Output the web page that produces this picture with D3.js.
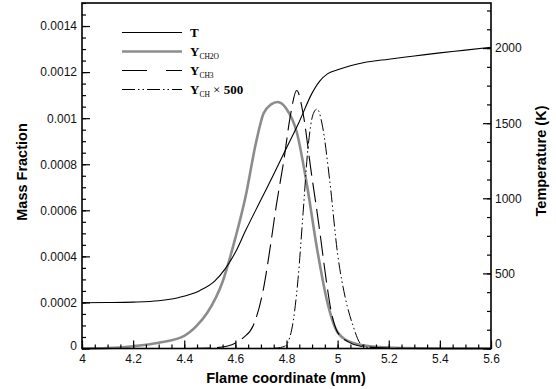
<!DOCTYPE html>
<html>
<head>
<meta charset="utf-8">
<script src="https://cdn.jsdelivr.net/npm/d3@7"></script>
<style>
  body { margin: 0; background: #fff; }
  text { font-family: "Liberation Sans", Arial, sans-serif; }
</style>
</head>
<body>
<svg width="556" height="389"></svg>
<script>
// Temperature profile (K)
var tempX = [4.0, 4.1, 4.2, 4.3, 4.38, 4.46, 4.52, 4.56, 4.6, 4.64, 4.7, 4.75, 4.8, 4.85, 4.9, 4.93, 4.96, 5.0, 5.05, 5.1, 5.2, 5.3, 5.4, 5.5, 5.6];
var tempY = [305, 306, 309, 318, 340, 385, 450, 530, 640, 785, 990, 1160, 1335, 1510, 1700, 1780, 1828, 1855, 1882, 1902, 1926, 1947, 1968, 1986, 2005];

// Y_CH2O mass fraction
var ch2oX = [4.0, 4.1, 4.2, 4.3, 4.4, 4.45, 4.49, 4.55, 4.6, 4.64, 4.68, 4.71, 4.74, 4.765, 4.8, 4.84, 4.88, 4.92, 4.96, 5.0, 5.06, 5.14, 5.25, 5.4, 5.6];
var ch2oY = [0, 0.000002, 0.00001, 0.000025, 0.000055, 0.0001, 0.000155, 0.00029, 0.00048, 0.00066, 0.00089, 0.00102, 0.00106, 0.00107, 0.00104, 0.00094, 0.00071, 0.00043, 0.0002, 0.00007, 0.000024, 0.000008, 0.000002, 0, 0];

// Y_CH3 mass fraction
var ch3X = [4.0, 4.4, 4.5, 4.566, 4.63, 4.67, 4.71, 4.735, 4.76, 4.79, 4.815, 4.84, 4.865, 4.895, 4.93, 4.955, 4.975, 5.0, 5.04, 5.09, 5.2, 5.3, 5.6];
var ch3Y = [0, 0, 0.000002, 0.00001, 0.000046, 0.0001, 0.00026, 0.00043, 0.00062, 0.00082, 0.00101, 0.00112, 0.00102, 0.00078, 0.00051, 0.0003, 0.00016, 0.00007, 0.00003, 0.00001, 0.000002, 0, 0];

// Y_CH x 500
var chX = [4.0, 4.7, 4.76, 4.793, 4.82, 4.845, 4.865, 4.884, 4.905, 4.92, 4.94, 4.969, 5.0, 5.03, 5.06, 5.09, 5.12, 5.2, 5.6];
var chY = [0, 0, 0.000002, 0.00001, 0.00008, 0.0003, 0.00059, 0.00087, 0.00102, 0.00104, 0.00097, 0.00073, 0.00041, 0.00022, 0.0001, 0.00002, 0.000004, 0, 0];

var xTicks = [4, 4.2, 4.4, 4.6, 4.8, 5, 5.2, 5.4, 5.6];
var yTicks = [0, 0.0002, 0.0004, 0.0006, 0.0008, 0.001, 0.0012, 0.0014];
var tTicks = [0, 500, 1000, 1500, 2000];

(function() {
  var svg = d3.select("svg");
  var mLeft = 82, mRight = 491, mTop = 3, mBottom = 348.5;

  var x = d3.scaleLinear().domain([4, 5.6]).range([mLeft, mRight]);
  var y = d3.scaleLinear().domain([0, 0.0015]).range([mBottom, mTop]);
  var yT = d3.scaleLinear().domain([0, 2300]).range([mBottom, mTop]);

  function zip(xs, ys) { return xs.map(function(v, i) { return [v, ys[i]]; }); }

  var plot = svg.append("g");

  // curves
  var lineY = d3.line().x(function(d) { return x(d[0]); }).y(function(d) { return y(d[1]); }).curve(d3.curveMonotoneX);
  var lineT = d3.line().x(function(d) { return x(d[0]); }).y(function(d) { return yT(d[1]); }).curve(d3.curveMonotoneX);

  plot.append("path").datum(zip(ch2oX, ch2oY)).attr("d", lineY)
      .attr("fill", "none").attr("stroke", "#8c8c8c").attr("stroke-width", 2.6);
  plot.append("path").datum(zip(ch3X, ch3Y)).attr("d", lineY)
      .attr("fill", "none").attr("stroke", "#000").attr("stroke-width", 1.1)
      .attr("stroke-dasharray", "20,7");
  plot.append("path").datum(zip(chX, chY)).attr("d", lineY)
      .attr("fill", "none").attr("stroke", "#000").attr("stroke-width", 1)
      .attr("stroke-dasharray", "12,3,1.5,3,1.5,3");
  plot.append("path").datum(zip(tempX, tempY)).attr("d", lineT)
      .attr("fill", "none").attr("stroke", "#000").attr("stroke-width", 1.1);

  // frame
  svg.append("rect").attr("x", mLeft).attr("y", mTop).attr("width", mRight - mLeft).attr("height", mBottom - mTop)
     .attr("fill", "none").attr("stroke", "#000").attr("stroke-width", 1.6);

  function fmt(v) { return String(+v.toFixed(4)); }

  // bottom axis (ticks inward)
  var gx = svg.append("g").attr("transform", "translate(0," + mBottom + ")")
      .call(d3.axisBottom(x).tickValues(d3.range(4, 5.6001, 0.05)).tickSize(-4).tickFormat(""));
  gx.append("g").call(d3.axisBottom(x).tickValues(xTicks).tickSize(-8).tickFormat(fmt));
  gx.selectAll("text").attr("y", 6).attr("dy", "0.71em");

  var gy = svg.append("g").attr("transform", "translate(" + mLeft + ",0)")
      .call(d3.axisLeft(y).tickValues(d3.range(0, 0.00150001, 0.00005)).tickSize(-4).tickFormat(""));
  gy.append("g").call(d3.axisLeft(y).tickValues(yTicks).tickSize(-8).tickFormat(fmt));
  gy.selectAll("text").attr("x", -5);

  var gt = svg.append("g").attr("transform", "translate(" + mRight + ",0)")
      .call(d3.axisRight(yT).tickValues(d3.range(0, 2300, 125)).tickSize(-4).tickFormat(""));
  gt.append("g").call(d3.axisRight(yT).tickValues(tTicks).tickSize(-8).tickFormat(fmt));
  gt.selectAll("text").attr("x", 4);

  svg.selectAll(".domain").remove();
  svg.selectAll(".tick line").attr("stroke", "#000").attr("stroke-width", 1.2);
  svg.selectAll(".tick text").attr("font-size", 12).attr("fill", "#111")
     .attr("font-family", "Liberation Sans, Arial, sans-serif");
  // zero labels sit slightly above the corner like the original
  gy.selectAll(".tick text").filter(function(d) { return d === 0; }).attr("dy", "0.1em");
  gt.selectAll(".tick text").filter(function(d) { return d === 0; }).attr("dy", "-0.05em");

  // axis titles
  svg.append("text").attr("x", 286).attr("y", 383).attr("text-anchor", "middle")
     .attr("font-size", 14.5).attr("font-weight", "bold").text("Flame coordinate (mm)");
  svg.append("text").attr("transform", "translate(27,172) rotate(-90)").attr("text-anchor", "middle")
     .attr("font-size", 14.5).attr("font-weight", "bold").text("Mass Fraction");
  svg.append("text").attr("transform", "translate(546,161) rotate(-90)").attr("text-anchor", "middle")
     .attr("font-size", 14.5).attr("font-weight", "bold").text("Temperature (K)");

  // legend
  var legend = [
    { main: "T", sub: "", extra: false, stroke: "#000", width: 1.1, dash: null },
    { main: "Y", sub: "CH2O", extra: false, stroke: "#8c8c8c", width: 2.6, dash: null },
    { main: "Y", sub: "CH3", extra: false, stroke: "#000", width: 1.1, dash: "25,19" },
    { main: "Y", sub: "CH", extra: true, stroke: "#000", width: 1, dash: "13,3,1.5,3,1.5,3" }
  ];
  var lg = svg.append("g");
  legend.forEach(function(d, i) {
    var ly = 32.5 + i * 19;
    lg.append("line").attr("x1", 122).attr("x2", 182).attr("y1", ly).attr("y2", ly)
      .attr("stroke", d.stroke).attr("stroke-width", d.width).attr("stroke-dasharray", d.dash);
    var t = lg.append("text").attr("x", 190).attr("y", ly + 4.5)
      .style("font-family", "Liberation Serif, Times New Roman, serif").attr("font-size", 13).attr("font-weight", "bold");
    t.append("tspan").text(d.main);
    if (d.sub) t.append("tspan").attr("font-size", 7.5).attr("font-weight", "normal").attr("dy", 3).text(d.sub);
    if (d.extra) {
      t.append("tspan").attr("dy", -3).attr("font-weight", "normal").text(" \u00d7 ");
      t.append("tspan").text("500");
    }
  });
})();
</script>
</body>
</html>
